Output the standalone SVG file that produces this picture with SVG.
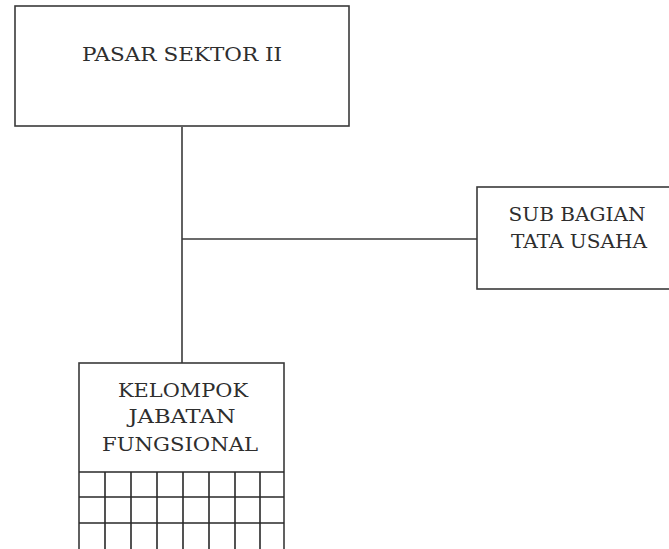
<svg xmlns="http://www.w3.org/2000/svg" width="669" height="549" viewBox="0 0 669 549">
  <style>
    .box { fill: #ffffff; stroke: #3a3a3a; stroke-width: 1.6; }
    .grid { fill: none; stroke: #2a2a2a; stroke-width: 1.6; }
    .link { fill: none; stroke: #3a3a3a; stroke-width: 1.6; }
    .label { font-family: "DejaVu Serif", "Liberation Serif", serif; font-size: 19px; fill: #2e2e2e; text-anchor: middle; }
  </style>
  <rect x="0" y="0" width="669" height="549" fill="#ffffff"/>

  <!-- connectors -->
  <g id="connectors">
    <line class="link" x1="182" y1="127" x2="182" y2="363"/>
    <line class="link" x1="182" y1="239" x2="477" y2="239"/>
  </g>

  <!-- head office -->
  <g id="pasar-sektor">
    <rect class="box" x="15" y="6" width="334" height="120"/>
    <text class="label" x="182" y="61" textLength="200" lengthAdjust="spacingAndGlyphs">PASAR SEKTOR II</text>
  </g>

  <!-- administration sub-division -->
  <g id="sub-bagian">
    <rect class="box" x="477" y="187" width="220" height="102"/>
    <text class="label" x="577" y="221" textLength="137" lengthAdjust="spacingAndGlyphs">SUB BAGIAN</text>
    <text class="label" x="579" y="248" textLength="136" lengthAdjust="spacingAndGlyphs">TATA USAHA</text>
  </g>

  <!-- functional group with grid -->
  <g id="kelompok-jabatan">
    <rect class="box" x="79" y="363" width="205" height="200"/>
    <text class="label" x="183" y="397" textLength="130" lengthAdjust="spacingAndGlyphs">KELOMPOK</text>
    <text class="label" x="182" y="423" textLength="107" lengthAdjust="spacingAndGlyphs">JABATAN</text>
    <text class="label" x="180" y="451" textLength="156" lengthAdjust="spacingAndGlyphs">FUNGSIONAL</text>
    <path class="grid" d="M79 472H284 M79 497H284 M79 523H284
      M105 472V549 M131 472V549 M157 472V549 M183 472V549
      M209 472V549 M235 472V549 M260 472V549"/>
  </g>
</svg>
